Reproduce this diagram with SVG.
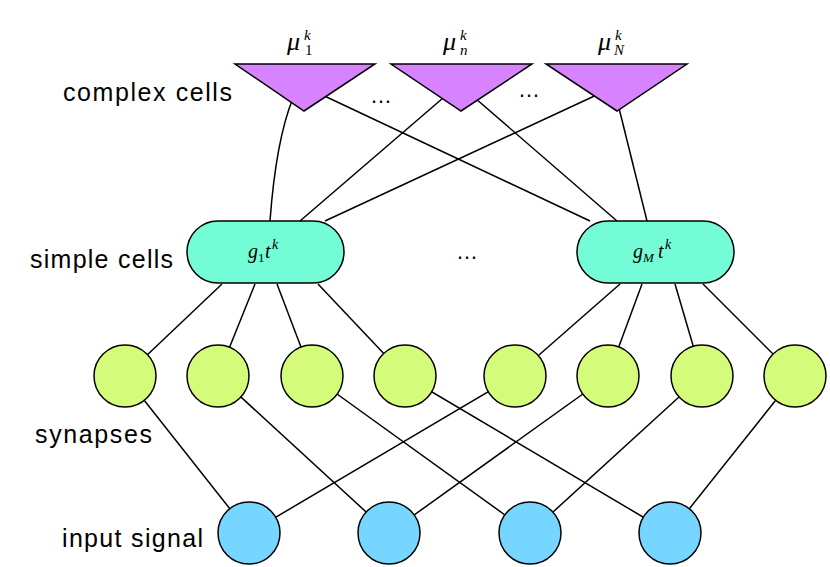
<svg xmlns="http://www.w3.org/2000/svg" width="830" height="567" viewBox="0 0 830 567">
<style>
.lbl{font-family:"Liberation Sans",Arial,sans-serif;font-size:25px;fill:#000}
.math{font-family:"Liberation Serif","Times New Roman",serif;font-style:italic;fill:#000}
.up{font-family:"Liberation Serif","Times New Roman",serif;fill:#000}
.dots{font-family:"Liberation Sans",Arial,sans-serif;font-size:22px;fill:#000}
.cx{fill:#D783FF;stroke:#000;stroke-width:1.5;stroke-linejoin:miter}
.sc{fill:#73FCD6;stroke:#000;stroke-width:1.5}
.sy{fill:#D4FB79;stroke:#000;stroke-width:1.5}
.in{fill:#76D6FF;stroke:#000;stroke-width:1.5}
.conn path,.conn line{stroke:#000;stroke-width:1.5;fill:none}
</style>
<rect width="830" height="567" fill="#fff"/>
<g class="conn" id="connectors">
  <path d="M293 98 Q276 140 270 221"/>
  <line x1="316" y1="92" x2="590" y2="221"/>
  <line x1="450" y1="92" x2="300" y2="221"/>
  <line x1="468" y1="92" x2="617" y2="221"/>
  <line x1="603" y1="92" x2="325" y2="221"/>
  <line x1="617" y1="100" x2="647" y2="221"/>
  <line x1="222" y1="284" x2="125" y2="376"/>
  <line x1="255" y1="284" x2="218" y2="376"/>
  <line x1="277" y1="284" x2="312" y2="376"/>
  <line x1="318" y1="284" x2="405" y2="376"/>
  <line x1="620" y1="284" x2="515" y2="376"/>
  <line x1="642" y1="284" x2="608" y2="376"/>
  <line x1="675" y1="284" x2="702" y2="376"/>
  <line x1="703" y1="284" x2="795" y2="376"/>
  <line x1="125" y1="376" x2="249" y2="533"/>
  <line x1="218" y1="376" x2="389" y2="533"/>
  <line x1="312" y1="376" x2="530" y2="533"/>
  <line x1="405" y1="376" x2="670" y2="533"/>
  <line x1="515" y1="376" x2="249" y2="533"/>
  <line x1="608" y1="376" x2="389" y2="533"/>
  <line x1="702" y1="376" x2="530" y2="533"/>
  <line x1="795" y1="376" x2="670" y2="533"/>
</g>
<g id="labels">
  <text class="lbl" x="63" y="101" textLength="169" lengthAdjust="spacing">complex cells</text>
  <text class="lbl" x="30" y="268" textLength="143" lengthAdjust="spacing">simple cells</text>
  <text class="lbl" x="35" y="443" textLength="117" lengthAdjust="spacing">synapses</text>
  <text class="lbl" x="62" y="547" textLength="141" lengthAdjust="spacing">input signal</text>
  <text class="dots" x="370" y="103">…</text>
  <text class="dots" x="518" y="97">…</text>
  <text class="dots" x="456" y="259">…</text>
</g>
<g id="complex1">
  <polygon class="cx" points="235,64 375,64 304,111"/>
  <text class="math" x="287" y="50" font-size="26">μ</text>
  <text class="math" x="304" y="40" font-size="15">k</text>
  <text class="up" x="305" y="55" font-size="15">1</text>
</g>
<g id="complex2">
  <polygon class="cx" points="391,64 532,64 461,111"/>
  <text class="math" x="443" y="50" font-size="26">μ</text>
  <text class="math" x="460" y="40" font-size="15">k</text>
  <text class="math" x="460" y="55" font-size="15">n</text>
</g>
<g id="complexN">
  <polygon class="cx" points="546,64 687,64 617,111"/>
  <text class="math" x="598" y="50" font-size="26">μ</text>
  <text class="math" x="615" y="40" font-size="15">k</text>
  <text class="math" x="614" y="55" font-size="15">N</text>
</g>
<g id="simple1">
  <rect class="sc" x="187" y="221" width="157" height="62" rx="31" ry="31"/>
  <text class="math" x="248" y="258" font-size="20">g</text>
  <text class="up" x="258" y="262" font-size="13">1</text>
  <text class="math" x="265" y="258" font-size="20">t</text>
  <text class="math" x="272" y="249" font-size="14">k</text>
</g>
<g id="simpleM">
  <rect class="sc" x="577" y="221" width="157" height="62" rx="31" ry="31"/>
  <text class="math" x="633" y="258" font-size="20">g</text>
  <text class="math" x="643" y="262" font-size="13">M</text>
  <text class="math" x="658" y="258" font-size="20">t</text>
  <text class="math" x="665" y="249" font-size="14">k</text>
</g>
<g id="syn1"><circle class="sy" cx="125" cy="376" r="31"/></g>
<g id="syn2"><circle class="sy" cx="218" cy="376" r="31"/></g>
<g id="syn3"><circle class="sy" cx="312" cy="376" r="31"/></g>
<g id="syn4"><circle class="sy" cx="405" cy="376" r="31"/></g>
<g id="syn5"><circle class="sy" cx="515" cy="376" r="31"/></g>
<g id="syn6"><circle class="sy" cx="608" cy="376" r="31"/></g>
<g id="syn7"><circle class="sy" cx="702" cy="376" r="31"/></g>
<g id="syn8"><circle class="sy" cx="795" cy="376" r="31"/></g>
<g id="in1"><circle class="in" cx="249" cy="533" r="31"/></g>
<g id="in2"><circle class="in" cx="389" cy="533" r="31"/></g>
<g id="in3"><circle class="in" cx="530" cy="533" r="31"/></g>
<g id="in4"><circle class="in" cx="670" cy="533" r="31"/></g>
</svg>
